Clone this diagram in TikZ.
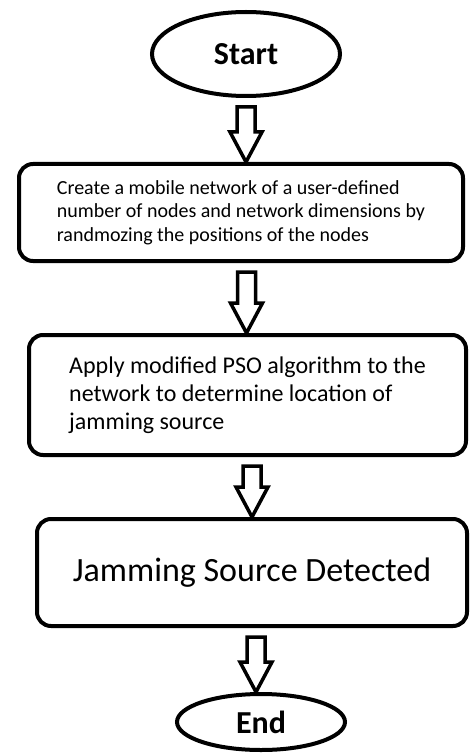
\documentclass[tikz,border=0pt]{standalone}
\usepackage{fontspec}
\setmainfont{Carlito}
\usetikzlibrary{calc, shapes.geometric}
% outlined block arrow from one node down to the next, at a given x
\newcommand{\flowarrow}[3]{%
  \draw[blockarrow] let \p1=(#1.south), \p2=(#2.north) in
    (#3-9,\y1-9) -- (#3-9,\y2+30) -- (#3-16,\y2+30) -- (#3,\y2)
    -- (#3+16,\y2+30) -- (#3+9,\y2+30) -- (#3+9,\y1-9) -- cycle;
}

\begin{document}
\begin{tikzpicture}[x=1pt, y=1pt,
  terminal/.style={draw, line width=4pt, ellipse, inner sep=0pt, font=\fontsize{32}{36}\selectfont\bfseries},
  flowbox/.style={draw, line width=4pt, rounded corners=14pt, inner sep=0pt, align=left},
  blockarrow/.style={draw, line width=3.5pt, fill=white, line join=miter}]
  \useasboundingbox (0,0) rectangle (470,-754);
  \node[terminal, minimum width=188pt, minimum height=84pt] (start) at (246,-54) {Start};
  \node[flowbox, minimum width=444pt, minimum height=97pt, font=\fontsize{20}{23.5}\selectfont] (create) at (241,-212.5)
    {Create a mobile network of a user-defined\\number of nodes and network dimensions by\\randmozing the positions of the nodes};
  \node[flowbox, minimum width=437pt, minimum height=120pt, font=\fontsize{24}{28}\selectfont] (apply) at (247.5,-395)
    {Apply modified PSO algorithm to the\\network to determine location of\\jamming source};
  \node[flowbox, minimum width=430pt, minimum height=107pt, font=\fontsize{34}{40}\selectfont] (detect) at (252,-572.5)
    {Jamming Source Detected};
  \node[terminal, minimum width=168pt, minimum height=56pt] (end) at (261,-722) {End};
  \flowarrow{start}{create}{246}
  \flowarrow{create}{apply}{246.5}
  \flowarrow{apply}{detect}{252}
  \flowarrow{detect}{end}{256}
\end{tikzpicture}
\end{document}
